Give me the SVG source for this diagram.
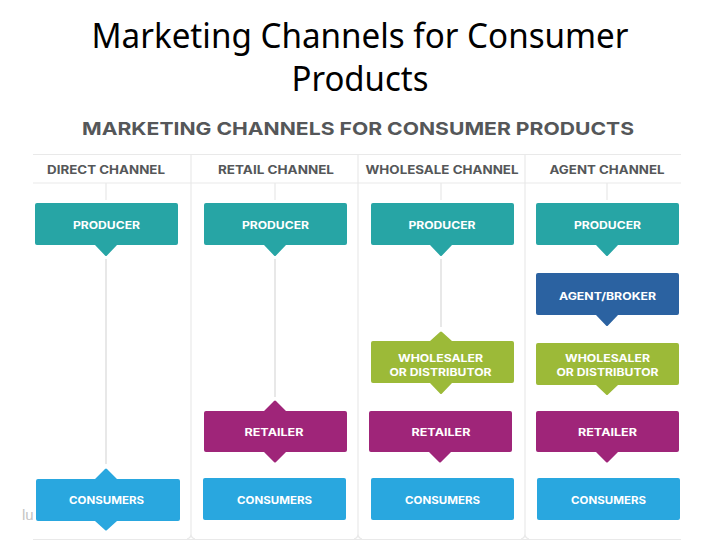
<svg xmlns="http://www.w3.org/2000/svg" width="720" height="540" viewBox="0 0 720 540">
<style>
.title{font-family:"Noto Sans","DejaVu Sans",sans-serif;font-size:35px;fill:#000;text-anchor:middle}
.head{font-family:"Inter","Liberation Sans",sans-serif;font-weight:700;fill:#555759;text-anchor:middle}
.h1{font-size:18px}
.h2{font-size:11.500px}
.lbl{font-family:"Inter","Liberation Sans",sans-serif;font-weight:700;font-size:10.500px;fill:#fff;text-anchor:middle}
.grid{stroke:#e9e9e9;stroke-width:1.200;fill:none}
.conn{stroke:#e8e8e8;stroke-width:2;fill:none}
.stub{stroke:#e8e8e8;stroke-width:1.200;fill:none}
.teal{fill:#27a5a5}.blue{fill:#2b62a1}.green{fill:#9cba38}.purple{fill:#9f2579}.sky{fill:#29a7df}
</style>
<rect width="720" height="540" fill="#fff"/>
<text class="title" x="360" y="48" textLength="537" lengthAdjust="spacingAndGlyphs">Marketing Channels for Consumer</text>
<text class="title" x="360" y="91" textLength="137" lengthAdjust="spacingAndGlyphs">Products</text>
<text class="head h1" x="358" y="134.500" textLength="552" lengthAdjust="spacingAndGlyphs">MARKETING CHANNELS FOR CONSUMER PRODUCTS</text>
<g id="grid">
<path class="grid" d="M33 154.500H681M33 183H681M191 154V534Q191 538 195 539M191 534Q191 538 187 539M358 154V534Q358 538 362 539M358 534Q358 538 354 539M525 154V534Q525 538 529 539M525 534Q525 538 521 539M33 539.500H681"/>
</g>
<text class="head h2" x="106" y="173.500" textLength="118" lengthAdjust="spacingAndGlyphs">DIRECT CHANNEL</text>
<text class="head h2" x="276" y="173.500" textLength="116" lengthAdjust="spacingAndGlyphs">RETAIL CHANNEL</text>
<text class="head h2" x="442" y="173.500" textLength="153" lengthAdjust="spacingAndGlyphs">WHOLESALE CHANNEL</text>
<text class="head h2" x="607" y="173.500" textLength="115" lengthAdjust="spacingAndGlyphs">AGENT CHANNEL</text>
<text x="22" y="520" font-family="Liberation Sans, sans-serif" font-size="15" fill="#c4c4c4">lu</text>
<g id="connectors">
<path class="stub" d="M106 183V200M275 183V200M441 183V200M607 183V200"/>
<path class="conn" d="M106 259V464M275 259V397M441 259V327"/>
</g>
<g id="col1-producer"><path class="teal" d="M37 203H176a2 2 0 0 1 2 2V243a2 2 0 0 1-2 2H117L107 255.500Q106 256.500 105 255.500L95 245H37a2 2 0 0 1-2-2V205a2 2 0 0 1 2-2Z"/><text class="lbl" x="106.500" y="229" textLength="67" lengthAdjust="spacingAndGlyphs">PRODUCER</text></g>
<g id="col2-producer"><path class="teal" d="M206 203H345a2 2 0 0 1 2 2V243a2 2 0 0 1-2 2H286L276 255.500Q275 256.500 274 255.500L264 245H206a2 2 0 0 1-2-2V205a2 2 0 0 1 2-2Z"/><text class="lbl" x="275.500" y="229" textLength="67" lengthAdjust="spacingAndGlyphs">PRODUCER</text></g>
<g id="col3-producer"><path class="teal" d="M373 203H512a2 2 0 0 1 2 2V243a2 2 0 0 1-2 2H452L442 255.500Q441 256.500 440 255.500L430 245H373a2 2 0 0 1-2-2V205a2 2 0 0 1 2-2Z"/><text class="lbl" x="442" y="229" textLength="67" lengthAdjust="spacingAndGlyphs">PRODUCER</text></g>
<g id="col4-producer"><path class="teal" d="M538 203H677a2 2 0 0 1 2 2V243a2 2 0 0 1-2 2H618L608 255.500Q607 256.500 606 255.500L596 245H538a2 2 0 0 1-2-2V205a2 2 0 0 1 2-2Z"/><text class="lbl" x="607.500" y="229" textLength="67" lengthAdjust="spacingAndGlyphs">PRODUCER</text></g>
<g id="col4-agent"><path class="blue" d="M538 273H677a2 2 0 0 1 2 2V313a2 2 0 0 1-2 2H618L608 325.500Q607 326.500 606 325.500L596 315H538a2 2 0 0 1-2-2V275a2 2 0 0 1 2-2Z"/><text class="lbl" x="607.500" y="300" textLength="97" lengthAdjust="spacingAndGlyphs">AGENT/BROKER</text></g>
<g id="col3-wholesaler"><path class="green" d="M373 341H430L440 332Q441 331 442 332L452 341H512a2 2 0 0 1 2 2V381a2 2 0 0 1-2 2H452L442 393.500Q441 394.500 440 393.500L430 383H373a2 2 0 0 1-2-2V343a2 2 0 0 1 2-2Z"/><text class="lbl" x="440.500" y="362" textLength="85" lengthAdjust="spacingAndGlyphs">WHOLESALER</text><text class="lbl" x="440.500" y="376" textLength="102" lengthAdjust="spacingAndGlyphs">OR DISTRIBUTOR</text></g>
<g id="col4-wholesaler"><path class="green" d="M538 343H677a2 2 0 0 1 2 2V383a2 2 0 0 1-2 2H618L608 394.500Q607 395.500 606 394.500L596 385H538a2 2 0 0 1-2-2V345a2 2 0 0 1 2-2Z"/><text class="lbl" x="607.500" y="362" textLength="85" lengthAdjust="spacingAndGlyphs">WHOLESALER</text><text class="lbl" x="607.500" y="376" textLength="102" lengthAdjust="spacingAndGlyphs">OR DISTRIBUTOR</text></g>
<g id="col2-retailer"><path class="purple" d="M206 411H264L274 401Q275 400 276 401L286 411H345a2 2 0 0 1 2 2V450a2 2 0 0 1-2 2H286L276 462Q275 463 274 462L264 452H206a2 2 0 0 1-2-2V413a2 2 0 0 1 2-2Z"/><text class="lbl" x="274" y="436" textLength="59" lengthAdjust="spacingAndGlyphs">RETAILER</text></g>
<g id="col3-retailer"><path class="purple" d="M371 411H510a2 2 0 0 1 2 2V450a2 2 0 0 1-2 2H451L441 462Q440 463 439 462L429 452H371a2 2 0 0 1-2-2V413a2 2 0 0 1 2-2Z"/><text class="lbl" x="441" y="436" textLength="59" lengthAdjust="spacingAndGlyphs">RETAILER</text></g>
<g id="col4-retailer"><path class="purple" d="M538 411H677a2 2 0 0 1 2 2V450a2 2 0 0 1-2 2H618L608 462Q607 463 606 462L596 452H538a2 2 0 0 1-2-2V413a2 2 0 0 1 2-2Z"/><text class="lbl" x="607.500" y="436" textLength="59" lengthAdjust="spacingAndGlyphs">RETAILER</text></g>
<g id="col1-consumers"><path class="sky" d="M38 479H95L105 469Q106 468 107 469L117 479H178a2 2 0 0 1 2 2V519a2 2 0 0 1-2 2H117L107 530Q106 531 105 530L95 521H38a2 2 0 0 1-2-2V481a2 2 0 0 1 2-2Z"/><text class="lbl" x="106.500" y="504" textLength="75" lengthAdjust="spacingAndGlyphs">CONSUMERS</text></g>
<g id="col2-consumers"><path class="sky" d="M205 478H344a2 2 0 0 1 2 2V518a2 2 0 0 1-2 2H205a2 2 0 0 1-2-2V480a2 2 0 0 1 2-2Z"/><text class="lbl" x="274.500" y="504" textLength="75" lengthAdjust="spacingAndGlyphs">CONSUMERS</text></g>
<g id="col3-consumers"><path class="sky" d="M373 478H512a2 2 0 0 1 2 2V518a2 2 0 0 1-2 2H373a2 2 0 0 1-2-2V480a2 2 0 0 1 2-2Z"/><text class="lbl" x="442.500" y="504" textLength="75" lengthAdjust="spacingAndGlyphs">CONSUMERS</text></g>
<g id="col4-consumers"><path class="sky" d="M539 478H678a2 2 0 0 1 2 2V518a2 2 0 0 1-2 2H539a2 2 0 0 1-2-2V480a2 2 0 0 1 2-2Z"/><text class="lbl" x="608.500" y="504" textLength="75" lengthAdjust="spacingAndGlyphs">CONSUMERS</text></g>
</svg>
